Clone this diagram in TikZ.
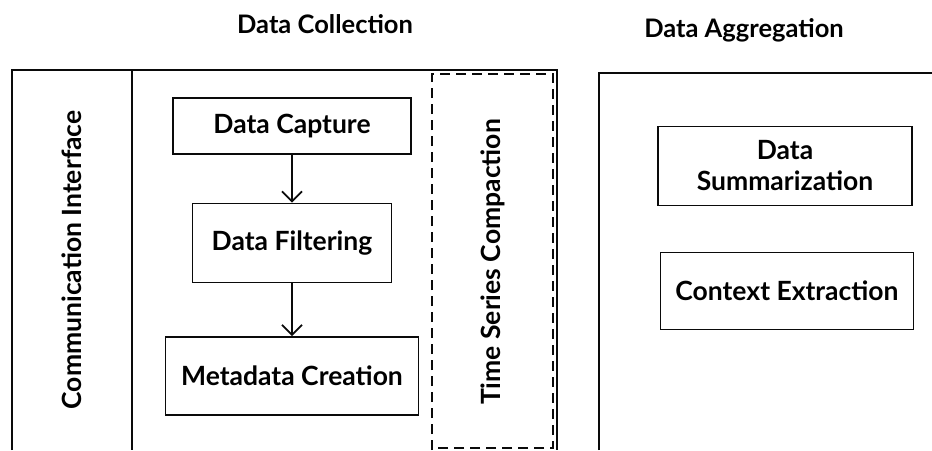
\documentclass[tikz,border=0pt]{standalone}
\usepackage{fontspec}
\setmainfont{Lato}
\usepackage{xcolor}
\usetikzlibrary{arrows.meta}
\definecolor{lineColor}{RGB}{10, 10, 10}

\begin{document}
\begin{tikzpicture}[x=1pt, y=-1pt, font=\bfseries\fontsize{26.5}{31}\selectfont,
	procBox/.style={draw=lineColor, line width=1.8pt, inner sep=0pt, align=center},
	titleText/.style={font=\bfseries\fontsize{25.5}{30}\selectfont},
	sideText/.style={rotate=90, font=\bfseries\fontsize{26.5}{31}\selectfont},
	flowArrow/.style={-{Straight Barb[length=10pt, width=20pt, line width=1.8pt]}, line width=1.8pt, lineColor}]
	\useasboundingbox (0,0) rectangle (932,450);

	% Titles above the two stages
	\node[titleText] (collTitle) at (325, 24) {Data Collection};
	\node[titleText] (aggTitle) at (744, 30) {Data Aggregation};

	% Data Collection frame (open at the bottom)
	\draw[line width=1.8pt, lineColor] (12,450) -- (12,70) -- (557,70) -- (557,450);
	% Communication Interface column
	\draw[line width=1.8pt, lineColor] (132,70) -- (132,450);
	\node[sideText] (comm) at (72, 260) {Communication Interface};

	% Time Series Compaction (dashed column)
	\draw[line width=1.8pt, lineColor, dash pattern=on 10pt off 6pt] (432,450) -- (432,74) -- (553,74) -- (553,448) -- (432,448);
	\node[sideText] (tsc) at (493, 262) {Time Series Compaction};

	% Processing steps
	\node[procBox, minimum width=238pt, minimum height=56pt] (capture) at (292, 126) {Data Capture};
	\node[procBox, minimum width=199pt, minimum height=79pt] (filter) at (292, 243) {Data Filtering};
	\node[procBox, minimum width=253pt, minimum height=78pt] (meta) at (292, 376) {Metadata Creation};
	\draw[flowArrow] (capture) -- (filter);
	\draw[flowArrow] (filter) -- (meta);

	% Data Aggregation frame (open at the bottom and right)
	\draw[line width=1.8pt, lineColor] (599,450) -- (599,73) -- (932,73);
	\node[procBox, minimum width=254pt, minimum height=79pt] (summ) at (785, 166) {Data\\Summarization};
	\node[procBox, minimum width=253pt, minimum height=77pt] (ctx) at (787, 291) {Context Extraction};
\end{tikzpicture}
\end{document}
